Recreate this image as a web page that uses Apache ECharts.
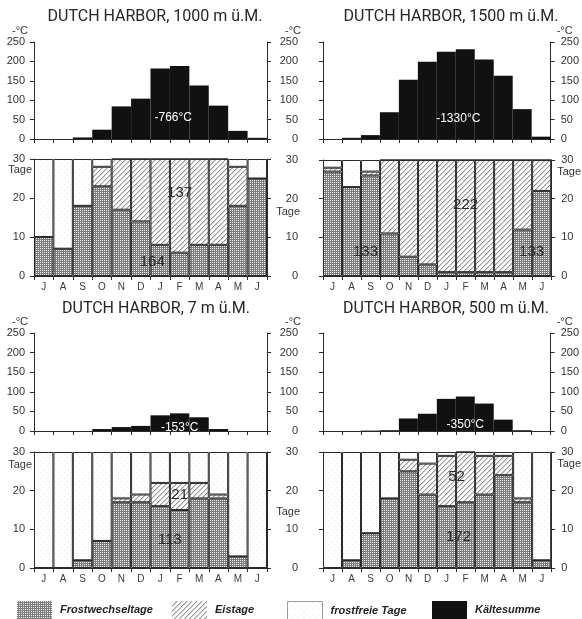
<!DOCTYPE html>
<html>
<head>
<meta charset="utf-8">
<script src="https://cdn.jsdelivr.net/npm/echarts@6/dist/echarts.min.js"></script>
<style>
  html, body { margin: 0; padding: 0; background: #fff; }
  #chart { width: 582px; height: 619px; }
</style>
</head>
<body>
<div id="chart"></div>
<script>
// Months of the climatic year, July to June
const months = ['J', 'A', 'S', 'O', 'N', 'D', 'J', 'F', 'M', 'A', 'M', 'J'];

// Kältesumme axis (−°C) and day axis (Tage)
const kaelteMax = 250, kaelteStep = 50;
const tageMax = 30, tageStep = 10;

// DUTCH HARBOR, 1000 m ü.M.
const kaelte1000 = [0, 0, 4, 24, 84, 104, 182, 188, 138, 86, 21, 3];
const frostwechsel1000 = [10, 7, 18, 23, 17, 14, 8, 6, 8, 8, 18, 25];
const eis1000 = [0, 0, 0, 5, 13, 16, 22, 24, 22, 22, 10, 0];
const frostfrei1000 = [20, 23, 12, 2, 0, 0, 0, 0, 0, 0, 2, 5];

// DUTCH HARBOR, 1500 m ü.M.
const kaelte1500 = [0, 3, 10, 69, 153, 199, 225, 231, 205, 163, 77, 6];
const frostwechsel1500 = [27, 23, 26, 11, 5, 3, 1, 1, 1, 1, 12, 22];
const eis1500 = [1, 0, 1, 19, 25, 27, 29, 29, 29, 29, 18, 8];
const frostfrei1500 = [2, 7, 3, 0, 0, 0, 0, 0, 0, 0, 0, 0];

// DUTCH HARBOR, 7 m ü.M.
const kaelte7 = [0, 0, 0, 5, 10, 13, 40, 45, 35, 5, 0, 0];
const frostwechsel7 = [0, 0, 2, 7, 17, 17, 16, 15, 18, 18, 3, 0];
const eis7 = [0, 0, 0, 0, 1, 2, 6, 7, 4, 1, 0, 0];
const frostfrei7 = [30, 30, 28, 23, 12, 11, 8, 8, 8, 11, 27, 30];

// DUTCH HARBOR, 500 m ü.M.
const kaelte500 = [0, 0, 1, 2, 32, 44, 82, 88, 70, 29, 2, 0];
const frostwechsel500 = [0, 2, 9, 18, 25, 19, 16, 17, 19, 24, 17, 2];
const eis500 = [0, 0, 0, 0, 3, 8, 13, 13, 10, 5, 1, 0];
const frostfrei500 = [30, 28, 21, 12, 2, 3, 1, 0, 1, 1, 12, 28];

// Annual totals printed inside the charts
const panels = [
  { title: 'DUTCH HARBOR, 1000 m ü.M.', kaelte: kaelte1000, fw: frostwechsel1000, eis: eis1000, frei: frostfrei1000,
    kaelteText: '-766°C', fwText: ['164'], eisText: '137' },
  { title: 'DUTCH HARBOR, 1500 m ü.M.', kaelte: kaelte1500, fw: frostwechsel1500, eis: eis1500, frei: frostfrei1500,
    kaelteText: '-1330°C', fwText: ['133', '133'], eisText: '222' },
  { title: 'DUTCH HARBOR, 7 m ü.M.', kaelte: kaelte7, fw: frostwechsel7, eis: eis7, frei: frostfrei7,
    kaelteText: '-153°C', fwText: ['113'], eisText: '21' },
  { title: 'DUTCH HARBOR, 500 m ü.M.', kaelte: kaelte500, fw: frostwechsel500, eis: eis500, frei: frostfrei500,
    kaelteText: '-350°C', fwText: ['172'], eisText: '52' }
];

// Layout of each panel (pixels) and where the totals sit (axis coords + pixel nudge)
const layout = [
  { left: 34, width: 233, topY: 42, topH: 97, botY: 159, botH: 117, rightLabels: false, titleX: 150, titleY: 4,
    leftMargin: 9, tageLeftGap: -11, tageLeftPad: 2,
    kPos: { coord: [6, 54], off: [13, 0] }, fwPos: [{ coord: [6, 3.6], off: [-8, 0] }], eisPos: { coord: [7, 21.3], off: [0, 0] } },
  { left: 323, width: 234, topY: 42, topH: 97, botY: 160, botH: 116, rightLabels: true, titleX: 446, titleY: 4,
    leftMargin: 25, tageLeftGap: -52, tageLeftPad: 23,
    kPos: { coord: [7, 51.5], off: [-7, 0] },
    fwPos: [{ coord: [2, 6.2], off: [-5, 0] }, { coord: [10, 6.2], off: [9, 0] }], eisPos: { coord: [7, 18.4], off: [0, 0] } },
  { left: 34, width: 233, topY: 333, topH: 98, botY: 452, botH: 116, rightLabels: false, titleX: 151, titleY: 296,
    leftMargin: 9, tageLeftGap: -13, tageLeftPad: 2,
    kPos: { coord: [7, 8], off: [0, 0] }, fwPos: [{ coord: [7, 7.2], off: [-10, 0] }], eisPos: { coord: [7, 18.9], off: [0, 0] } },
  { left: 323, width: 234, topY: 333, topH: 98, botY: 452, botH: 116, rightLabels: true, titleX: 441, titleY: 296,
    leftMargin: 25, tageLeftGap: -60, tageLeftPad: 23,
    kPos: { coord: [7, 15], off: [0, 0] }, fwPos: [{ coord: [7, 8], off: [-7, 0] }], eisPos: { coord: [7, 23.5], off: [-9, 0] } }
];

const sans = '"Liberation Sans", Arial, sans-serif';
const fs = { axis: 11, month: 10, total: 15, kaelte: 12, legend: 11 };
const ink = '#2a2a2a';

// Fill patterns for the day categories
function makePattern(w, h, draw) {
  const c = document.createElement('canvas');
  c.width = w; c.height = h;
  draw(c.getContext('2d'));
  return { image: c, repeat: 'repeat' };
}
const crossFill = makePattern(2, 2, g => {
  g.fillStyle = '#7c7c7c'; g.fillRect(0, 0, 2, 2);
  g.fillStyle = '#f4f4f4'; g.fillRect(0, 0, 1, 1);
});
const hatchFill = makePattern(5, 5, g => {
  g.fillStyle = '#ffffff'; g.fillRect(0, 0, 5, 5);
  for (let x = 0; x < 5; x++) {
    g.fillStyle = '#959595'; g.fillRect(x, (9 - x) % 5, 1, 1);
    g.fillStyle = '#d2d2d2'; g.fillRect(x, (10 - x) % 5, 1, 1);
  }
});
const freeFill = makePattern(6, 6, g => {
  g.fillStyle = '#ffffff'; g.fillRect(0, 0, 6, 6);
  g.fillStyle = '#e6e6e6'; g.fillRect(1, 1, 1, 1); g.fillRect(4, 4, 1, 1);
});

const grid = [], xAxis = [], yAxis = [], series = [], title = [];

function xAx(gi, showLabels) {
  return {
    type: 'category', gridIndex: gi, data: months, boundaryGap: true,
    axisLine: { show: true, lineStyle: { color: ink, width: 1 } },
    axisTick: { show: true, interval: 0, length: 4, lineStyle: { color: ink } },
    axisLabel: { show: showLabels, interval: 0, margin: 6, fontFamily: sans, fontSize: fs.month, color: '#3a3a3a' },
    splitLine: { show: false }
  };
}

function yAx(gi, position, max, step, labelShow, margin, name, nameGap, align, pad) {
  return {
    type: 'value', gridIndex: gi, position: position, min: 0, max: max, interval: step,
    axisLine: { show: true, lineStyle: { color: ink, width: 1 } },
    axisTick: { show: true, length: 4, lineStyle: { color: ink } },
    axisLabel: { show: labelShow, margin: margin, fontFamily: sans, fontSize: fs.axis, color: '#333' },
    splitLine: { show: false },
    name: name, nameLocation: 'end', nameGap: nameGap,
    nameTextStyle: { fontFamily: sans, fontSize: fs.axis, color: '#333',
                     align: align, verticalAlign: 'middle', padding: pad }
  };
}

function mark(pos, text, color, size) {
  return {
    coord: pos.coord, value: text, symbol: 'rect', symbolSize: 1,
    itemStyle: { color: 'rgba(0,0,0,0)' },
    label: { show: true, position: 'inside', formatter: text, offset: pos.off,
             fontFamily: sans, fontSize: size, color: color }
  };
}

panels.forEach((p, i) => {
  const L = layout[i];
  const gTop = 2 * i, gBot = 2 * i + 1;
  grid.push({ left: L.left, top: L.topY, width: L.width, height: L.topH });
  grid.push({ left: L.left, top: L.botY, width: L.width, height: L.botH });
  xAxis.push(xAx(gTop, false));
  xAxis.push(xAx(gBot, true));

  // Kältesumme axes
  yAxis.push(yAx(gTop, 'left', kaelteMax, kaelteStep, true, L.leftMargin, '-°C', 10, 'right', [0, L.leftMargin - 3, 0, 0]));
  yAxis.push(yAx(gTop, 'right', kaelteMax, kaelteStep, L.rightLabels, 10, L.rightLabels ? '-°C' : '', 10, 'left', [0, 0, 0, 6]));
  // Tage axes
  yAxis.push(yAx(gBot, 'left', tageMax, tageStep, true, L.leftMargin, 'Tage', L.tageLeftGap, 'right', [0, L.tageLeftPad, 0, 0]));
  yAxis.push(yAx(gBot, 'right', tageMax, tageStep, L.rightLabels, 10, L.rightLabels ? 'Tage' : '', -12, 'left', [0, 0, 0, 6]));

  title.push({
    text: p.title, left: L.titleX, top: L.titleY, textAlign: 'center',
    textStyle: { fontFamily: 'Roboto, "Liberation Sans", sans-serif', fontSize: 16, fontWeight: 'normal', color: '#262626' }
  });

  series.push({
    name: 'Kältesumme', type: 'bar', xAxisIndex: gTop, yAxisIndex: 2 * gTop,
    data: p.kaelte, barWidth: '100%', itemStyle: { color: '#111' },
    markPoint: { silent: true, data: [mark(L.kPos, p.kaelteText, '#fff', fs.kaelte)] }
  });
  series.push({
    name: 'Frostwechseltage', type: 'bar', stack: 'tage' + i, xAxisIndex: gBot, yAxisIndex: 2 * gBot,
    data: p.fw, barWidth: '100%', itemStyle: { color: crossFill, borderColor: '#2a2a2a', borderWidth: 1 },
    markPoint: { silent: true, data: p.fwText.map((t, k) => mark(L.fwPos[k], t, '#2a2a2a', fs.total)) }
  });
  series.push({
    name: 'Eistage', type: 'bar', stack: 'tage' + i, xAxisIndex: gBot, yAxisIndex: 2 * gBot,
    data: p.eis, barWidth: '100%', itemStyle: { color: hatchFill, borderColor: '#2a2a2a', borderWidth: 1 },
    markPoint: { silent: true, data: [mark(L.eisPos, p.eisText, '#2a2a2a', fs.total)] }
  });
  series.push({
    name: 'frostfreie Tage', type: 'bar', stack: 'tage' + i, xAxisIndex: gBot, yAxisIndex: 2 * gBot,
    data: p.frei, barWidth: '100%', itemStyle: { color: freeFill, borderColor: '#2a2a2a', borderWidth: 1 }
  });
});

function legendAt(left, name, extra) {
  return {
    left: left, top: 596, itemWidth: 35, itemHeight: 18, selectedMode: false,
    icon: 'rect',
    data: [Object.assign({ name: name }, extra || {})],
    textStyle: { fontFamily: sans, fontSize: fs.legend, fontStyle: 'italic', fontWeight: 'bold',
                 color: '#222', padding: [0, 0, 0, 3] }
  };
}

const chart = echarts.init(document.getElementById('chart'), null, { renderer: 'canvas' });
chart.setOption({
  animation: false,
  backgroundColor: '#fff',
  title: title,
  grid: grid,
  xAxis: xAxis,
  yAxis: yAxis,
  legend: [
    legendAt(12, 'Frostwechseltage', { itemStyle: { borderWidth: 0 } }),
    legendAt(167, 'Eistage', { itemStyle: { borderWidth: 0 } }),
    legendAt(282, 'frostfreie Tage', { itemStyle: { borderColor: '#9a9a9a', borderWidth: 1 } }),
    legendAt(427, 'Kältesumme')
  ],
  series: series
});
</script>
</body>
</html>
